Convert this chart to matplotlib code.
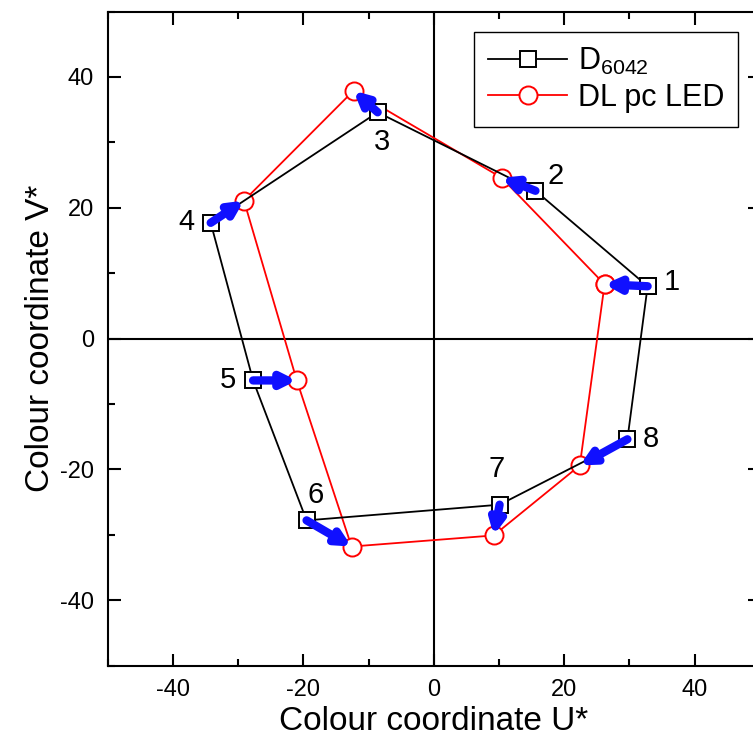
import numpy as np
import matplotlib.pyplot as plt
from matplotlib.ticker import MultipleLocator

plt.rcParams['font.family'] = ['Liberation Sans', 'DejaVu Sans']
plt.rcParams['axes.unicode_minus'] = False
plt.rcParams['mathtext.fontset'] = 'custom'
plt.rcParams['mathtext.rm'] = 'Liberation Sans'

# colour coordinates of the 8 test colours
labels = ['1', '2', '3', '4', '5', '6', '7', '8']
d_u = [32.8, 15.6, -8.6, -34.2, -27.7, -19.5, 10.1, 29.7]
d_v = [8.0, 22.6, 34.6, 17.7, -6.4, -27.8, -25.4, -15.4]
led_u = [26.2, 10.4, -12.3, -29.1, -21.0, -12.6, 9.2, 22.4]
led_v = [8.3, 24.6, 37.9, 21.1, -6.4, -31.8, -30.1, -19.4]
# where the number labels sit
lab_u = [36.5, 18.7, -8.0, -37.9, -31.6, -18.1, 9.7, 33.3]
lab_v = [8.6, 24.8, 30.0, 17.9, -6.4, -23.9, -20.0, -15.4]

fig = plt.figure(figsize=(7.53, 7.47), dpi=100)
ax = fig.add_axes([0.143, 0.109, 0.866, 0.8755])

ax.axhline(0, color='black', lw=1.5, zorder=1)
ax.axvline(0, color='black', lw=1.5, zorder=1)

ax.plot(d_u + d_u[:1], d_v + d_v[:1], color='black', lw=1.3, marker='s',
        ms=12, mfc='white', mec='black', mew=1.4, zorder=3,
        label=r'D$_{\mathrm{6042}}$')
ax.plot(led_u + led_u[:1], led_v + led_v[:1], color='red', lw=1.3, marker='o',
        ms=13, mfc='white', mec='red', mew=1.4, zorder=2, label='DL pc LED')

for i in range(len(labels)):
    ax.annotate('', xy=(led_u[i], led_v[i]), xytext=(d_u[i], d_v[i]),
                arrowprops=dict(arrowstyle='-|>', lw=6, color='#1010ff',
                                mutation_scale=20, shrinkA=0, shrinkB=0),
                zorder=4)
    ax.text(lab_u[i], lab_v[i], labels[i], fontsize=21, ha='center', va='center')

ax.set_xlim(-50, 50)
ax.set_ylim(-50, 50)
ax.xaxis.set_major_locator(MultipleLocator(20))
ax.xaxis.set_minor_locator(MultipleLocator(10))
ax.yaxis.set_major_locator(MultipleLocator(20))
ax.yaxis.set_minor_locator(MultipleLocator(10))
ax.tick_params(which='both', direction='in', top=True, right=True, width=1.5,
               labelsize=17, pad=10)
ax.tick_params(which='major', length=9)
ax.tick_params(which='minor', length=5)
for s in ax.spines.values():
    s.set_linewidth(1.5)

ax.set_xlabel('Colour coordinate U*', fontsize=24, labelpad=3)
ax.set_ylabel('Colour coordinate V*', fontsize=24, labelpad=3)

leg = ax.legend(loc='upper right', bbox_to_anchor=(0.967, 0.969), fontsize=22,
                fancybox=False, edgecolor='black', framealpha=1,
                handlelength=2.6, handletextpad=0.35, borderpad=0.45,
                labelspacing=0.2, borderaxespad=0)
leg.get_frame().set_linewidth(1.0)

fig.savefig('out.png', dpi=100)
